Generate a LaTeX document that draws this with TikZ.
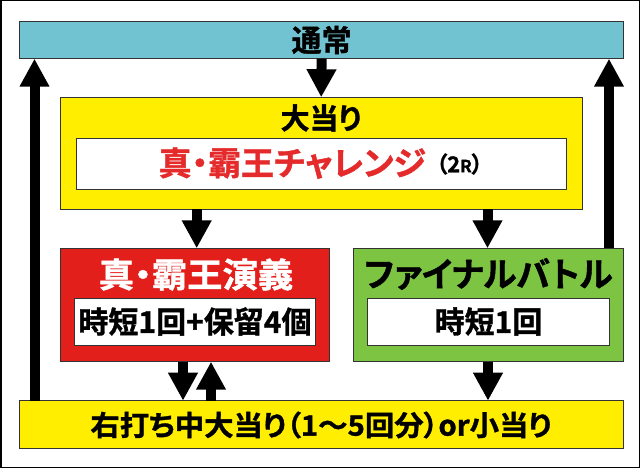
\documentclass[tikz,border=0pt]{standalone}
\usepackage{fontspec}
\newfontfamily\jp{Noto Sans CJK JP}[BoldFont={* Bold}, BoldFeatures={FakeBold=1.2}, RawFeature=+palt]
\usetikzlibrary{arrows.meta}
\definecolor{cyanbox}{HTML}{72C3D1}
\definecolor{yelbox}{HTML}{FFEE00}
\definecolor{redbox}{HTML}{E31F1C}
\definecolor{grnbox}{HTML}{7DC443}
\definecolor{redtxt}{HTML}{E42A2A}
\definecolor{edge}{HTML}{333333}
\tikzset{
  box/.style={draw=edge, line width=1pt, inner sep=0pt, outer sep=0pt, anchor=north west},
  bigarrow/.style={line width=10pt, -{Triangle[width=28pt,length=28pt]}},
  lbl/.style={font=\jp\bfseries, inner sep=0pt},
}
\newcommand{\fs}[1]{\fontsize{#1}{#1}\selectfont}
\begin{document}
\begin{tikzpicture}[x=1pt,y=-1pt]
\useasboundingbox (0,0) rectangle (640,468);
\draw[line width=1.5pt] (0.75,0.75) rectangle (639.25,467.25);
% boxes
\node[box, fill=cyanbox, minimum width=604pt, minimum height=37pt] (tsujo) at (19.6,21.7) {};
\node[box, fill=yelbox, minimum width=521.6pt, minimum height=111.7pt] (oatari) at (60.4,97.3) {};
\node[box, fill=white, minimum width=490.2pt, minimum height=50.3pt] (chal) at (76.3,139) {};
\node[box, fill=redbox, minimum width=269.4pt, minimum height=113.4pt] (engi) at (60.4,248.3) {};
\node[box, fill=white, minimum width=240.3pt, minimum height=46.7pt] (engiin) at (74.7,298.3) {};
\node[box, fill=grnbox, minimum width=270.7pt, minimum height=113.4pt] (final) at (353,248.3) {};
\node[box, fill=white, minimum width=242pt, minimum height=46.7pt] (finalin) at (367,298.3) {};
\node[box, fill=yelbox, minimum width=604pt, minimum height=47.6pt] (migi) at (19.6,400.7) {};
% texts
\node[lbl] (t1) at (321.6,40) {\fs{30}通常};
\node[lbl] (t2) at (321,118) {\fs{29}大当り};
\node[lbl, text=redtxt, anchor=east] (t3) at (426,163) {\fs{33}真・霸王チャレンジ};
\node[lbl, anchor=west] (t3b) at (436,164) {\fs{22}（2{\fs{17}R}）};
\node[lbl, text=white] (t4) at (196,274.5) {\scalebox{1.04}[1]{\fs{34}真・霸王演義}};
\node[lbl] (t5) at (195,321.5) {\fs{30}時短1回+保留4個};
\node[lbl] (t6) at (488.5,274) {\fs{34}ファイナルバトル};
\node[lbl] (t7) at (488.5,321.5) {\fs{30}時短1回};
\node[lbl] (t8) at (321,425) {\scalebox{1.05}[1]{\fs{28}右打ち中大当り（1～5回分）or小当り}};
% arrows
\draw[bigarrow] (tsujo.south) -- (oatari.north);
\draw[bigarrow] (migi.north -| 34.5,0) -- (tsujo.south -| 34.5,0);
\draw[bigarrow] (final.north -| 609,0) -- (tsujo.south -| 609,0);
\draw[bigarrow] (oatari.south -| 196.7,0) -- (engi.north -| 196.7,0);
\draw[bigarrow] (oatari.south -| 487.5,0) -- (final.north -| 487.5,0);
\draw[bigarrow] (engi.south -| 183,0) -- (migi.north -| 183,0);
\draw[bigarrow] (migi.north -| 211,0) -- (engi.south -| 211,0);
\draw[bigarrow] (final.south -| 488,0) -- (migi.north -| 488,0);
\end{tikzpicture}
\end{document}
